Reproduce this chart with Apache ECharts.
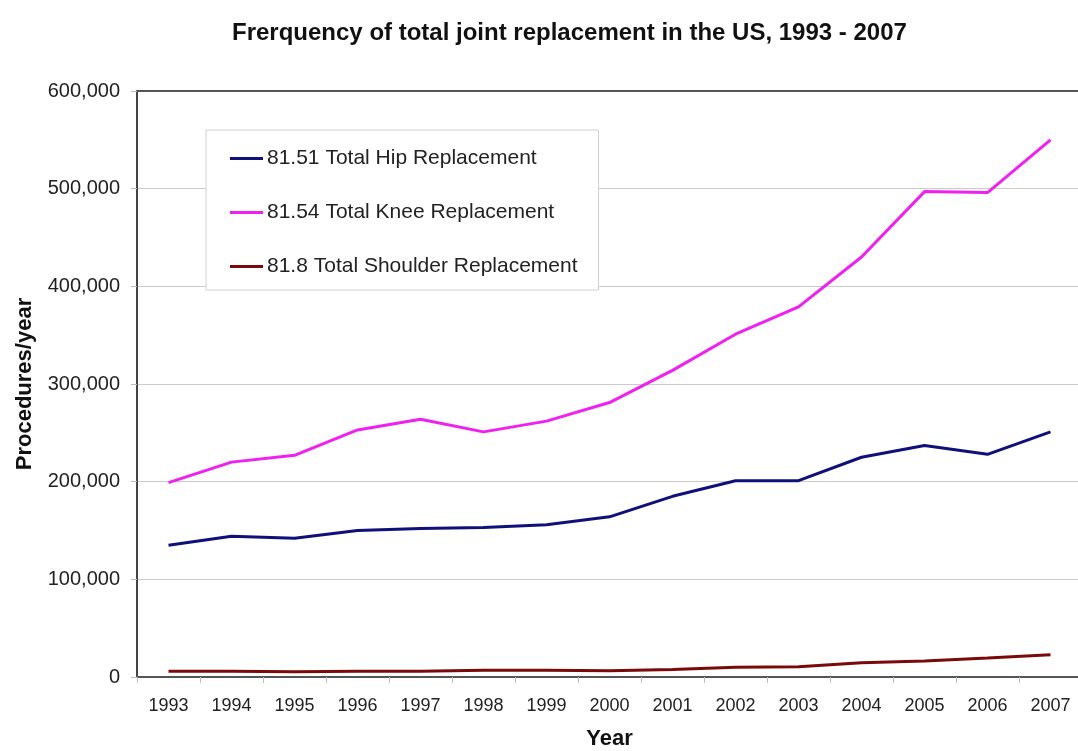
<!DOCTYPE html>
<html lang="en">
<head>
    <meta charset="UTF-8">
    <title>Total joint replacement</title>
    <script src="https://cdn.jsdelivr.net/npm/echarts@6/dist/echarts.min.js"></script>
    <style>
        html, body { margin: 0; padding: 0; background: #ffffff; }
        #chart { width: 1078px; height: 751px; }
    </style>
</head>
<body>
<div id="chart"></div>
<script>
    var years = ['1993', '1994', '1995', '1996', '1997', '1998', '1999', '2000',
                 '2001', '2002', '2003', '2004', '2005', '2006', '2007'];
    var hip = [135000, 144000, 142000, 150000, 152000, 153000, 156000, 164000,
               185000, 201000, 201000, 225000, 237000, 228000, 251000];
    var knee = [199000, 220000, 227000, 253000, 264000, 251000, 262000, 281000,
                314000, 351000, 379000, 430000, 497000, 496000, 550000];
    var shoulder = [6000, 6000, 5500, 6000, 6000, 7000, 7000, 6500,
                    7800, 9900, 10500, 14600, 16400, 19400, 22800];
    var seriesNames = ['81.51 Total Hip Replacement', '81.54 Total Knee Replacement', '81.8 Total Shoulder Replacement'];

    var font = '"Liberation Sans", Arial, sans-serif';

    function lineSeries(name, data, color){
        return {
            name: name,
            type: 'line',
            data: data,
            symbol: 'none',
            xAxisIndex: 0,
            lineStyle: { color: color, width: 3 },
            itemStyle: { color: color }
        };
    }

    var option = {
        animation: false,
        title: {
            text: 'Frerquency of total joint replacement in the US, 1993 - 2007',
            left: 227,
            top: 16,
            textStyle: { fontFamily: font, fontSize: 24, fontWeight: 'bold', color: '#111' }
        },
        legend: {
            data: seriesNames,
            orient: 'vertical',
            left: 206,
            top: 130,
            padding: [18, 21, 13, 24],
            itemGap: 33,
            icon: 'rect',
            itemWidth: 33,
            itemHeight: 3,
            backgroundColor: '#fff',
            borderColor: '#d0d0d0',
            borderWidth: 1,
            textStyle: { fontFamily: font, fontSize: 21, color: '#222', padding: [0, 0, 0, -1] }
        },
        grid: { left: 137, top: 91, bottom: 74, right: -4, outerBoundsMode: 'none' },
        xAxis: [
            {
                type: 'category',
                data: years,
                boundaryGap: true,
                name: 'Year',
                nameLocation: 'middle',
                nameGap: 51,
                nameTextStyle: { fontFamily: font, fontSize: 22, fontWeight: 'bold', color: '#111' },
                axisLine: { lineStyle: { color: '#555', width: 2 } },
                axisTick: { show: true, length: 6, lineStyle: { color: '#bbb' } },
                axisLabel: { fontFamily: font, fontSize: 18, color: '#222', margin: 20 }
            },
            {
                type: 'category',
                data: years,
                position: 'top',
                axisLine: { lineStyle: { color: '#555', width: 2 } },
                axisTick: { show: false },
                axisLabel: { show: false }
            }
        ],
        yAxis: {
            type: 'value',
            min: 0,
            max: 600000,
            interval: 100000,
            name: 'Procedures/year',
            nameLocation: 'middle',
            nameGap: 101,
            nameTextStyle: { fontFamily: font, fontSize: 22, fontWeight: 'bold', color: '#111' },
            axisLine: { show: true, lineStyle: { color: '#444', width: 2 } },
            axisTick: { show: true, length: 6, lineStyle: { color: '#bbb' } },
            axisLabel: {
                fontFamily: font, fontSize: 20, color: '#222', margin: 17,
                formatter: function(v){ return v.toLocaleString('en-US'); }
            },
            splitLine: { lineStyle: { color: '#cccccc', width: 1 } }
        },
        series: [
            lineSeries(seriesNames[0], hip, '#10107a'),
            lineSeries(seriesNames[1], knee, '#f020f0'),
            lineSeries(seriesNames[2], shoulder, '#7a0a0a')
        ]
    };
    echarts.init(document.getElementById('chart')).setOption(option);
</script>
</body>
</html>
